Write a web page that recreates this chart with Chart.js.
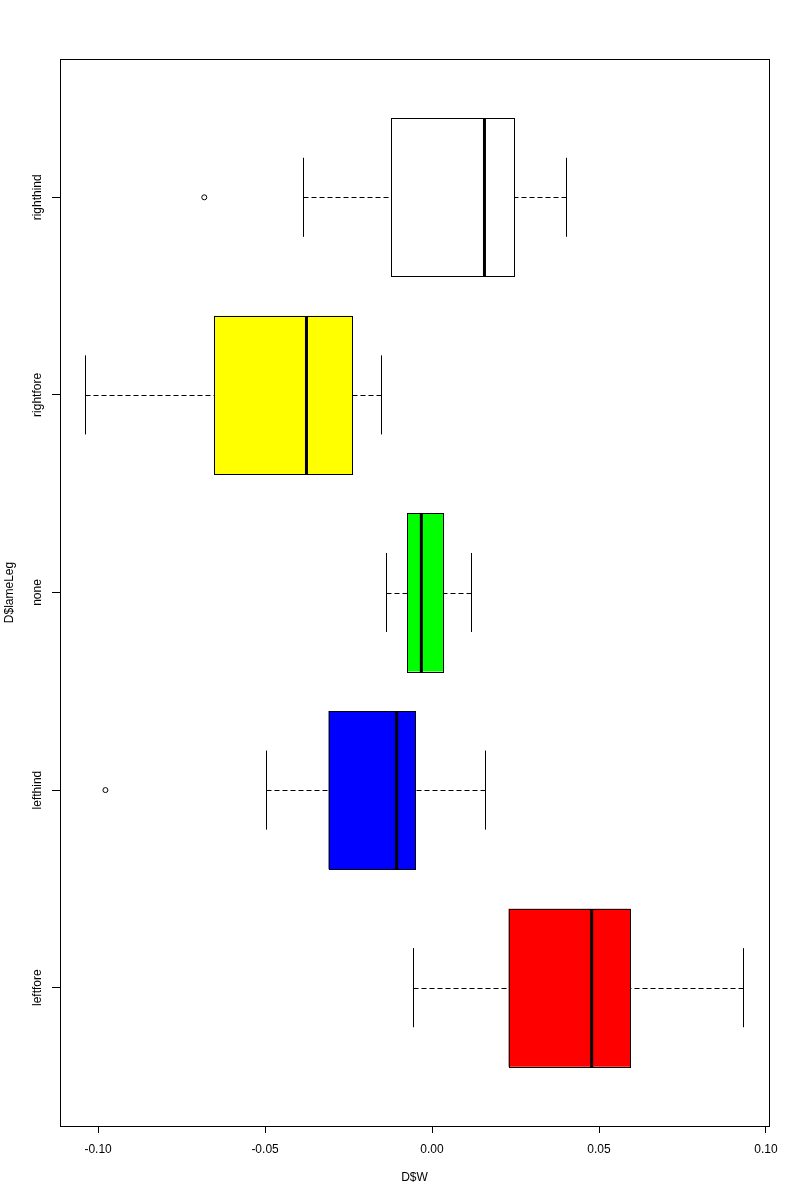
<!DOCTYPE html>
<html>
<head>
<meta charset="utf-8">
<script src="https://cdn.jsdelivr.net/npm/chart.js@4/dist/chart.umd.min.js"></script>
<style>
html,body{margin:0;padding:0;background:#fff;}
canvas{display:block;}
</style>
</head>
<body>
<canvas id="c" width="800" height="1200"></canvas>
<script>
// Categories from bottom (position 1) to top (position 5)
const categories = ['leftfore', 'lefthind', 'none', 'rightfore', 'righthind'];
const q1 =          [0.0229, -0.0310, -0.0074, -0.0652, -0.0124];
const medians =     [0.0478, -0.0106, -0.0032, -0.0376,  0.0157];
const q3 =          [0.0594, -0.0050,  0.0034, -0.0239,  0.0244];
const whiskerLow =  [-0.0056, -0.0496, -0.0137, -0.1038, -0.0385];
const whiskerHigh = [0.0932,  0.0160,  0.0118, -0.0152,  0.0402];
const outlierCategory = ['lefthind', 'righthind'];
const outlierValue = [-0.0978, -0.0682];
const boxColors = ['#FF0000', '#0000FF', '#00FF00', '#FFFF00', '#FFFFFF'];
const xTicks = [-0.10, -0.05, 0.00, 0.05, 0.10];
const xTitle = 'D$W';
const yTitle = 'D$lameLeg';

const FONT = '"Liberation Sans", Arial, sans-serif';
const crisp = v => Math.round(v) + 0.5;

const extras = {
  id: 'boxExtras',
  afterDatasetsDraw(chart) {
    const {ctx, chartArea, scales: {x, y}} = chart;
    ctx.save();
    ctx.strokeStyle = '#000';
    for (let i = 0; i < categories.length; i++) {
      const pos = i + 1;
      const yc = crisp(y.getPixelForValue(pos));
      const boxTop = crisp(y.getPixelForValue(pos + 0.4));
      const boxBot = crisp(y.getPixelForValue(pos - 0.4));
      const stTop = y.getPixelForValue(pos + 0.2);
      const stBot = y.getPixelForValue(pos - 0.2);
      const xl = crisp(x.getPixelForValue(whiskerLow[i]));
      const xq1 = crisp(x.getPixelForValue(q1[i]));
      const xq3 = crisp(x.getPixelForValue(q3[i]));
      const xh = crisp(x.getPixelForValue(whiskerHigh[i]));
      const xm = x.getPixelForValue(medians[i]);
      ctx.lineWidth = 1;
      // whiskers
      ctx.setLineDash([5, 3]);
      ctx.beginPath();
      ctx.moveTo(xl, yc); ctx.lineTo(xq1, yc);
      ctx.moveTo(xh, yc); ctx.lineTo(xq3, yc);
      ctx.stroke();
      ctx.setLineDash([]);
      // staples
      ctx.beginPath();
      ctx.moveTo(xl, stTop); ctx.lineTo(xl, stBot);
      ctx.moveTo(xh, stTop); ctx.lineTo(xh, stBot);
      ctx.stroke();
      // box outline
      ctx.strokeRect(xq1, boxTop, xq3 - xq1, boxBot - boxTop);
      // median
      ctx.lineWidth = 3;
      ctx.beginPath();
      ctx.moveTo(xm, boxTop); ctx.lineTo(xm, boxBot);
      ctx.stroke();
    }
    ctx.lineWidth = 1;
    ctx.strokeRect(crisp(chartArea.left), crisp(chartArea.top),
      Math.round(chartArea.right - chartArea.left), Math.round(chartArea.bottom - chartArea.top));
    ctx.fillStyle = '#000';
    ctx.font = '12px ' + FONT;
    ctx.textAlign = 'center';
    ctx.textBaseline = 'middle';
    for (let i = 0; i < categories.length; i++) {
      const yp = y.getPixelForValue(i + 1);
      ctx.save();
      ctx.translate(38, yp);
      ctx.rotate(-Math.PI / 2);
      ctx.fillText(categories[i], 0, 0);
      ctx.restore();
    }
    ctx.restore();
  }
};

new Chart(document.getElementById('c'), {
  type: 'bar',
  data: {
    datasets: [
      {
        type: 'bar',
        data: categories.map((c, i) => ({x: [q1[i], q3[i]], y: i + 1})),
        backgroundColor: boxColors,
        borderWidth: 0,
        borderSkipped: false,
        barPercentage: 0.8,
        categoryPercentage: 1.0
      },
      {
        type: 'scatter',
        data: outlierCategory.map((c, i) => ({x: outlierValue[i], y: categories.indexOf(c) + 1})),
        pointRadius: 2.5,
        pointBorderWidth: 1,
        pointBorderColor: '#000',
        pointBackgroundColor: 'rgba(0,0,0,0)'
      }
    ]
  },
  options: {
    indexAxis: 'y',
    responsive: false,
    animation: false,
    devicePixelRatio: 1,
    layout: {padding: {top: 59, right: 31, left: 0, bottom: 0}},
    plugins: {legend: {display: false}, tooltip: {enabled: false}},
    scales: {
      x: {
        type: 'linear',
        position: 'bottom',
        min: -0.1114,
        max: 0.1009,
        afterBuildTicks: s => { s.ticks = xTicks.map(v => ({value: v})); },
        afterFit: s => { s.height = 74; },
        ticks: {
          callback: v => Number(v).toFixed(2),
          color: '#000',
          font: {family: FONT, size: 12},
          padding: 9,
          maxRotation: 0,
          autoSkip: false
        },
        grid: {display: true, drawOnChartArea: false, drawTicks: true, tickLength: 7, color: '#000', lineWidth: 1},
        border: {display: false},
        title: {display: true, text: xTitle, color: '#000', font: {family: FONT, size: 12}, padding: {top: 0, bottom: 14.8}}
      },
      y: {
        type: 'linear',
        position: 'left',
        offset: false,
        min: 0.3,
        max: 5.7,
        afterBuildTicks: s => { s.ticks = categories.map((c, i) => ({value: i + 1})); },
        afterFit: s => { s.width = 60; },
        ticks: {display: false},
        grid: {display: true, offset: false, drawOnChartArea: false, drawTicks: true, tickLength: 8, color: '#000', lineWidth: 1},
        border: {display: false},
        title: {display: true, text: yTitle, color: '#000', font: {family: FONT, size: 12}, padding: {top: 2.5, bottom: 0}}
      }
    }
  },
  plugins: [extras]
});
</script>
</body>
</html>
